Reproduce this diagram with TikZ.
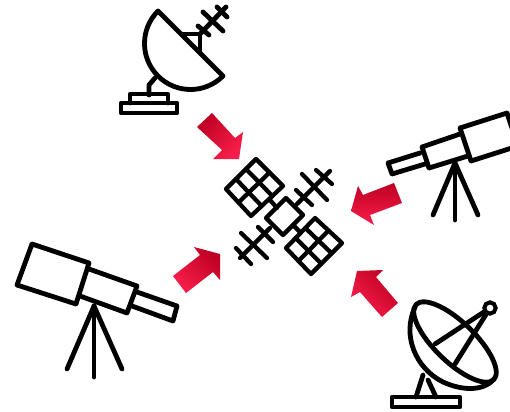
\documentclass[tikz,border=0pt]{standalone}
\usetikzlibrary{calc}
\definecolor{arrA}{RGB}{190,0,35}
\definecolor{arrB}{RGB}{248,30,75}
\tikzset{
  ink/.style={draw=black,line width=3.6pt,line join=round,line cap=round},
  thin ink/.style={ink,line width=3.2pt},
  redarrow/.style={shade,top color=arrA,bottom color=arrB,shading angle=#1,draw=none}
}
\newcommand{\panel}[4]{%
  \draw[thin ink] (#1)--(#2)--(#3)--(#4)--cycle;
  \draw[thin ink] ($(#1)!0.333!(#4)$)--($(#2)!0.333!(#3)$);
  \draw[thin ink] ($(#1)!0.667!(#4)$)--($(#2)!0.667!(#3)$);
  \draw[thin ink] ($(#1)!0.5!(#2)$)--($(#4)!0.5!(#3)$);
}
\begin{document}
\begin{tikzpicture}[x=0.75pt,y=-0.75pt]
\useasboundingbox (0,0) rectangle (510,411);
\clip (0,0) rectangle (510,411);
% top dish
\draw[ink] (158,11) .. controls (140,29) and (140,58) .. (158,76) .. controls (176,94) and (205,94) .. (223,76) -- cycle;
\draw[ink] (155,78)--(149,85)--(149,95);
\draw[ink] (130,103)--(130,94)--(168,94)--(168,103);
\draw[ink] (121,103) rectangle (177,113);
\draw[ink] (183,34)--(200,34)--(200,52);
\draw[ink] (200,34)--(226,7);
\draw[ink] (198,26)--(209,35);
\draw[ink] (203,12)--(223,31);
\draw[ink] (217,7)--(227,17);
% satellite
\coordinate (a1) at (256,159); \coordinate (a2) at (283,186);
\coordinate (a3) at (251,216); \coordinate (a4) at (226,189);
\panel{a1}{a2}{a3}{a4}
\coordinate (b1) at (315,218); \coordinate (b2) at (342,243);
\coordinate (b3) at (311,274); \coordinate (b4) at (286,248);
\panel{b1}{b2}{b3}{b4}
\draw[thin ink] (286,198)--(303,215)--(283,235)--(266,218)--cycle;
\draw[thin ink] (270,200)--(277,208);
\draw[thin ink] (293,225)--(300,232);
\draw[thin ink] (297,204)--(330,171);
\draw[thin ink] (296,190)--(312,205);
\draw[thin ink] (302,174)--(327,200);
\draw[thin ink] (316,170)--(332,184);
\draw[thin ink] (270,228)--(240,258);
\draw[thin ink] (258,227)--(273,242);
\draw[thin ink] (241,233)--(267,258);
\draw[thin ink] (236,248)--(251,264);
% right telescope
\draw[ink] (460,128)--(507,113)--(518,146)--(471,161)--cycle;
\draw[ink] (460,134)--(422,147)--(429,168)--(468,156);
\draw[ink] (420,153)--(388,163)--(392,174)--(425,164);
\draw[ink] (455,163)--(433,215);
\draw[ink] (455,163)--(455,220);
\draw[ink] (455,163)--(478,215);
% left telescope
\draw[ink] (32,244)--(89,263)--(76,304)--(17,285)--cycle;
\draw[ink] (89,269)--(137,286)--(127,313)--(80,296);
\draw[ink] (137,292)--(177,306)--(173,321)--(132,306);
\draw[ink] (94,306)--(67,369);
\draw[ink] (94,306)--(94,377);
\draw[ink] (94,306)--(122,369);
% bottom-right dish
\draw[ink] (392,397) rectangle (460,407);
\draw[ink] (423,375)--(416,397);
\draw[ink] (428,380)--(436,397);
\draw[ink,rotate around={-44:(455,342)}] (455,342) ellipse [x radius=54, y radius=20];
\draw[ink] (415,307) .. controls (402,335) and (415,368) .. (443,382) .. controls (465,392) and (485,390) .. (494,379);
\node[circle,draw=black,line width=3pt,minimum size=8.5pt,inner sep=0pt] (ring) at (490,308) {};
\draw[ink] (435,344)--(ring);
\draw[ink] (455,364)--(ring);
% arrows
\path[redarrow=45] (212,113)--(235,138)--(243,132)--(239,159)--(213,159)--(222,150)--(197,127)--cycle;
\path[redarrow=0] (394,183)--(402,203)--(370,215)--(374,225)--(351,211)--(358,186)--(363,195)--cycle;
\path[redarrow=-45] (173,276)--(200,255)--(194,247)--(220,254)--(220,280)--(213,272)--(186,293)--cycle;
\path[redarrow=-45] (383,270)--(376,277)--(398,303)--(382,317)--(360,292)--(351,297)--(357,271)--cycle;
\end{tikzpicture}
\end{document}
